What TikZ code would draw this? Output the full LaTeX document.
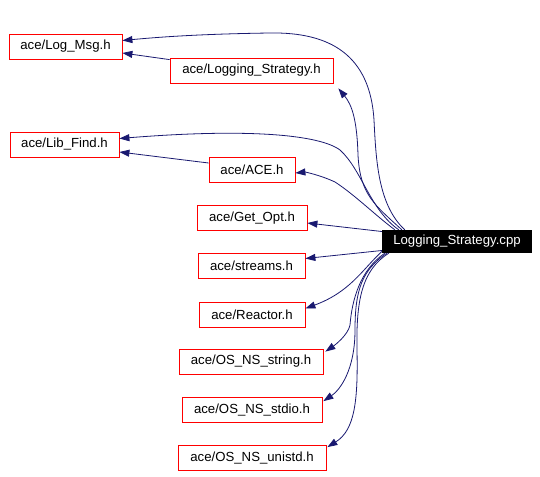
\documentclass[tikz,border=0pt]{standalone}
\usepackage{fontspec}
\setmainfont{Liberation Sans}
\usetikzlibrary{positioning, arrows.meta}
\definecolor{edgeblue}{HTML}{191970}

\begin{document}
\begin{tikzpicture}[x=1pt, y=-1pt,
  hdr/.style={rectangle, draw=red, line width=0.8pt, inner sep=0pt, minimum height=25pt, font=\fontsize{13.2}{15}\selectfont},
  src/.style={rectangle, fill=black, text=white, inner sep=0pt, minimum height=23pt, font=\fontsize{13.2}{15}\selectfont},
  dep/.style={draw=edgeblue, line width=0.8pt, -{Triangle[length=10pt,width=7pt]}},
]
  \useasboundingbox (0,0) rectangle (540,476);

  \node[src, minimum width=150pt] (cpp) at (457,241.5) {Logging\_Strategy.cpp};

  \node[hdr, minimum width=113pt] (logmsg) at (65.5,46.5) {ace/Log\_Msg.h};
  \node[hdr, minimum width=163pt] (logstrat) at (251.5,70.5) {ace/Logging\_Strategy.h};
  \node[hdr, minimum width=109pt] (libfind) at (64.5,144.5) {ace/Lib\_Find.h};
  \node[hdr, minimum width=86pt] (ace) at (252,170) {ace/ACE.h};
  \node[hdr, minimum width=110pt] (getopt) at (252,218) {ace/Get\_Opt.h};
  \node[hdr, minimum width=107pt] (streams) at (251.5,265.5) {ace/streams.h};
  \node[hdr, minimum width=106pt] (reactor) at (252,314.5) {ace/Reactor.h};
  \node[hdr, minimum width=144pt] (osstring) at (251,361.5) {ace/OS\_NS\_string.h};
  \node[hdr, minimum width=140pt] (osstdio) at (252,410) {ace/OS\_NS\_stdio.h};
  \node[hdr, minimum width=148pt] (osunistd) at (252,458) {ace/OS\_NS\_unistd.h};

  % edges out of the .cpp file
  \draw[dep] ([xshift=23pt]cpp.north west) .. controls (378,205) and (376,160) .. (374,120)
    .. controls (370,55) and (330,32) .. (270,33) .. controls (200,34) and (160,37) .. ([yshift=6pt]logmsg.east);
  \draw[dep] ([xshift=20pt]cpp.north west) .. controls (375,205) and (360,195) .. (358,155)
    .. controls (357,120) and (352,105) .. ([xshift=5pt,yshift=-5pt]logstrat.south east);
  \draw[dep] ([xshift=17pt]cpp.north west) .. controls (370,210) and (362,170) .. (340,150)
    .. controls (320,135) and (250,128) .. ([yshift=6pt]libfind.east);
  \draw[dep] ([xshift=13pt]cpp.north west) .. controls (375,215) and (355,195) .. (335,182)
    .. controls (320,175) and (305,172) .. ([yshift=-3pt]ace.east);
  \draw[dep] ([yshift=10pt]cpp.west) -- ([yshift=-5pt]getopt.east);
  \draw[dep] ([yshift=-9pt]cpp.west) -- ([yshift=7pt]streams.east);
  \draw[dep] ([yshift=-10pt]cpp.west) .. controls (362,270) and (350,292) .. ([yshift=6pt]reactor.east);
  \draw[dep] ([xshift=3pt]cpp.south west) .. controls (360,270) and (352,300) .. (350,325)
    .. controls (348,335) and (335,345) .. ([xshift=2pt,yshift=-3pt]osstring.north east);
  \draw[dep] ([xshift=5pt]cpp.south west) .. controls (362,270) and (355,290) .. (355,330)
    .. controls (355,370) and (340,390) .. ([xshift=1pt,yshift=-4pt]osstdio.north east);
  \draw[dep] ([xshift=7pt]cpp.south west) .. controls (362,270) and (356,300) .. (357,350)
    .. controls (358,400) and (355,430) .. ([xshift=1pt,yshift=-2pt]osunistd.north east);

  % edges between headers
  \draw[dep] ([yshift=-2pt]logstrat.north west) -- ([yshift=-6.5pt]logmsg.east);
  \draw[dep] ([yshift=7pt]ace.west) -- ([yshift=-7.5pt]libfind.east);
\end{tikzpicture}
\end{document}
